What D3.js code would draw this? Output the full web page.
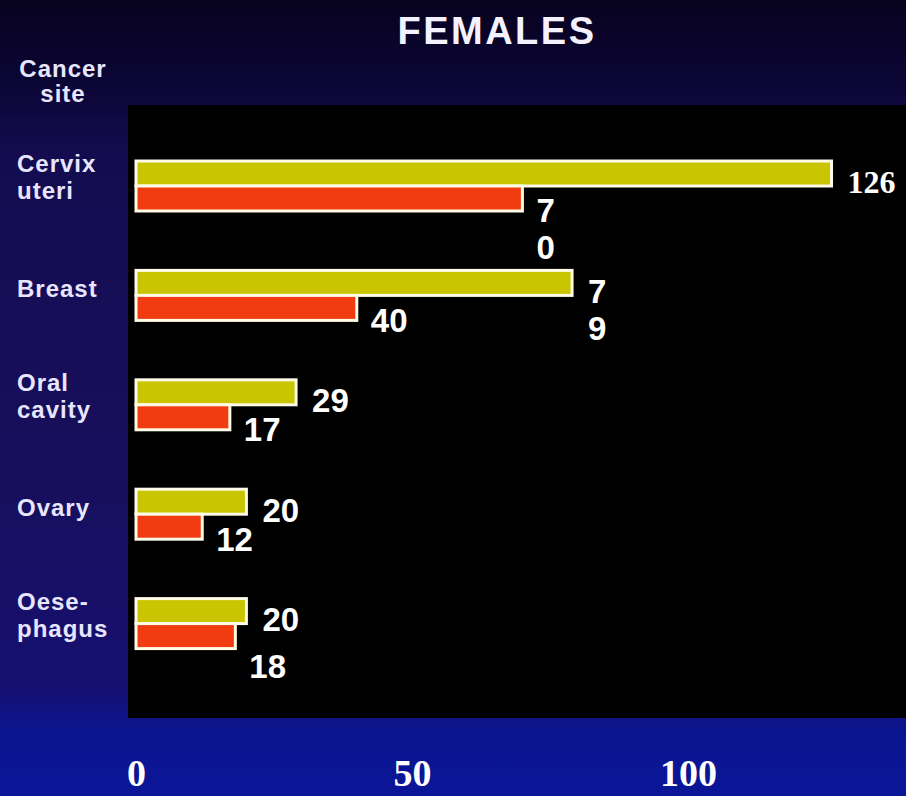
<!DOCTYPE html>
<html>
<head>
<meta charset="utf-8">
<script src="https://cdn.jsdelivr.net/npm/d3@7"></script>
<style>
  html, body { margin: 0; padding: 0; background: #0a0530; }
  svg { display: block; }
</style>
</head>
<body>
<script>
// ---- data ----
const title = "FEMALES";
const axisTitle = ["Cancer", "site"];
const categories = ["Cervix uteri", "Breast", "Oral cavity", "Ovary", "Oesophagus"];
const categoryLines = [["Cervix", "uteri"], ["Breast"], ["Oral", "cavity"], ["Ovary"], ["Oese-", "phagus"]];
const seriesNames = ["Series A", "Series B"];
const valuesA = [126, 79, 29, 20, 20];
const valuesB = [70, 40, 17, 12, 18];
const labelsA = ["126", "7\n9", "29", "20", "20"];
const labelsB = ["7\n0", "40", "17", "12", "18"];
const tickValues = [0, 50, 100];

// ---- layout ----
const W = 906, H = 796;
const plot = { x0: 128, x1: 906, y0: 105, y1: 718 };
const colors = { "Series A": "#c9c500", "Series B": "#f03c10" };

const svg = d3.select("body").append("svg").attr("width", W).attr("height", H);
const defs = svg.append("defs");
const bg = defs.append("linearGradient").attr("id", "bg").attr("x1", 0).attr("y1", 0).attr("x2", 0).attr("y2", 1);
[[0, "#08031f"], [0.1, "#0b0534"], [0.2, "#140c50"], [0.6, "#170f5c"], [0.86, "#161070"], [0.92, "#0b1590"], [1, "#0b1698"]]
  .forEach(([o, c]) => bg.append("stop").attr("offset", o).attr("stop-color", c));
svg.append("rect").attr("width", W).attr("height", H).attr("fill", "url(#bg)");

svg.append("rect")
  .attr("x", plot.x0).attr("y", plot.y0)
  .attr("width", plot.x1 - plot.x0).attr("height", plot.y1 - plot.y0)
  .attr("fill", "#000");

// ---- scales ----
const x = d3.scaleLinear().domain([0, 100]).range([136, 688]);
const y = d3.scaleBand().domain(categories).range([105, 704.6]).paddingInner(0.543).paddingOuter(0.512);
const ySub = d3.scaleBand().domain(seriesNames).range([0, y.bandwidth()]);

const rows = categories.map((c, i) => ({
  cat: c,
  bars: [
    { s: seriesNames[0], v: valuesA[i], label: labelsA[i] },
    { s: seriesNames[1], v: valuesB[i], label: labelsB[i] }
  ]
}));

// ---- title ----
svg.append("text")
  .attr("x", 497).attr("y", 44)
  .attr("text-anchor", "middle")
  .attr("font-family", "Liberation Sans, Arial, sans-serif")
  .attr("font-weight", "bold").attr("font-size", 38)
  .attr("letter-spacing", 2.5)
  .attr("fill", "#f4f2ff")
  .text(title);

// ---- axis title ----
svg.append("text")
  .attr("x", 63).attr("y", 77)
  .attr("text-anchor", "middle")
  .attr("font-family", "Liberation Sans, Arial, sans-serif")
  .attr("font-weight", "bold").attr("font-size", 24)
  .attr("letter-spacing", 1)
  .attr("fill", "#e8e6ff")
  .selectAll("tspan").data(axisTitle).join("tspan")
  .attr("x", 63).attr("dy", (d, i) => i === 0 ? 0 : 25)
  .text(d => d);

// ---- groups ----
const g = svg.append("g").selectAll("g.row").data(rows).join("g")
  .attr("class", "row")
  .attr("transform", d => `translate(0,${y(d.cat)})`);

g.selectAll("rect.bar").data(d => d.bars).join("rect")
  .attr("class", "bar")
  .attr("x", x(0))
  .attr("y", d => ySub(d.s))
  .attr("width", d => x(d.v) - x(0))
  .attr("height", ySub.bandwidth())
  .attr("fill", d => colors[d.s])
  .attr("stroke", "#fffbe6")
  .attr("stroke-width", 3);

// value labels (second label pushed down when it would collide with the first)
g.each(function (row) {
  const a = row.bars[0], b = row.bars[1];
  const ax = x(a.v) + 16, bx = x(b.v) + 14;
  const aBase = ySub(a.s) + ySub.bandwidth() / 2 + 20;
  let bBase = ySub(b.s) + ySub.bandwidth() / 2 + 24;
  if (Math.abs(ax - bx) < 42 && a.label.indexOf("\n") < 0 && bBase - aBase < 40) bBase = aBase + 47;
  const specs = [{ d: a, x: ax, base: aBase }, { d: b, x: bx, base: bBase }];
  d3.select(this).selectAll("text.val").data(specs).join("text")
    .attr("class", "val")
    .attr("font-family", s => s.d.v >= 100 ? "Liberation Serif, Times New Roman, serif" : "Liberation Sans, Arial, sans-serif")
    .attr("font-weight", "bold")
    .attr("font-size", s => s.d.v >= 100 ? 32 : 33)
    .attr("fill", "#ffffff")
    .each(function (s) {
      d3.select(this).selectAll("tspan").data(s.d.label.split("\n")).join("tspan")
        .attr("x", s.x)
        .attr("y", (l, k) => s.base + k * 37)
        .text(l => l);
    });
});

// category labels
g.append("text")
  .attr("font-family", "Liberation Sans, Arial, sans-serif")
  .attr("font-weight", "bold").attr("font-size", 24)
  .attr("letter-spacing", 1)
  .attr("fill", "#e8e6ff")
  .each(function (d, i) {
    const lines = categoryLines[i];
    const c = y.bandwidth() / 2;
    const first = lines.length === 1 ? c + 2 : c - 14;
    d3.select(this).selectAll("tspan").data(lines).join("tspan")
      .attr("x", 17)
      .attr("y", (l, k) => first + k * 27)
      .text(l => l);
  });

// ---- x axis ----
const axis = svg.append("g")
  .attr("transform", `translate(0,750)`)
  .call(d3.axisBottom(x).tickValues(tickValues).tickSize(0).tickFormat(d3.format("d")));
axis.select(".domain").remove();
axis.selectAll("text")
  .attr("y", 36).attr("dy", 0)
  .attr("font-family", "Liberation Serif, Times New Roman, serif")
  .attr("font-weight", "bold").attr("font-size", 38)
  .attr("fill", "#ffffff");
</script>
</body>
</html>
